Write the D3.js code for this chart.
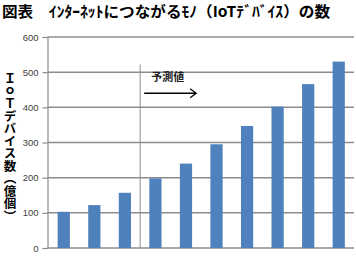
<!DOCTYPE html>
<html>
<head>
<meta charset="utf-8">
<script src="https://cdn.jsdelivr.net/npm/d3@7"></script>
<style>
  html, body { margin: 0; padding: 0; background: #fff; }
  svg { display: block; }
</style>
</head>
<body>
<script>
// data
const years = ["2013", "2014", "2015", "2016", "2017", "2018", "2019", "2020", "2021", "2022"];
const devices = [103, 122, 157, 198, 240, 295, 347, 402, 466, 530];
const yTicks = [0, 100, 200, 300, 400, 500, 600];
const forecastFrom = 3; // index of first forecast bar

const width = 356, height = 260;
const jp = "'Noto Sans CJK JP', sans-serif";

const svg = d3.select("body").append("svg")
  .attr("width", width)
  .attr("height", height);

//scales
const x = d3.scaleBand()
  .domain(years)
  .range([48.5, 354])
  .paddingInner(0.6)
  .paddingOuter(0.3);

const y = d3.scaleLinear()
  .domain([0, 600])
  .range([248, 37]);

const left = 47.5, right = 354;

// title
svg.append("text")
  .attr("x", 2)
  .attr("y", 17)
  .attr("textLength", 328)
  .attr("lengthAdjust", "spacingAndGlyphs")
  .style("font", `bold 15px ${jp}`)
  .attr("fill", "#000")
  .text("図表　ｲﾝﾀｰﾈｯﾄにつながるﾓﾉ（IoTﾃﾞﾊﾞｲｽ）の数");

// grid lines
svg.append("g")
  .selectAll("line")
  .data(yTicks)
  .join("line")
  .attr("x1", left)
  .attr("x2", right)
  .attr("y1", d => y(d))
  .attr("y2", d => y(d))
  .attr("stroke", "#8c8c8c")
  .attr("stroke-width", 1.5);

// y axis
const yAxis = svg.append("g")
  .attr("transform", `translate(${left},0)`)
  .call(d3.axisLeft(y).tickValues(yTicks).tickSize(5).tickPadding(4));
yAxis.select(".domain").attr("stroke", "#8c8c8c").attr("stroke-width", 1.2);
yAxis.selectAll(".tick line").attr("stroke", "#8c8c8c").attr("stroke-width", 1.2);
yAxis.selectAll("text")
  .attr("fill", "#404040")
  .style("font", "9.5px 'Liberation Sans', sans-serif");

// bars
svg.append("g")
  .selectAll("rect")
  .data(devices)
  .join("rect")
  .attr("x", (d, i) => x(years[i]))
  .attr("y", d => y(d))
  .attr("width", x.bandwidth())
  .attr("height", d => y(0) - y(d))
  .attr("fill", "#4f81bd");

// forecast separator
const sepX = x(years[forecastFrom]) - x.step() * x.paddingInner() / 2;
svg.append("line")
  .attr("x1", sepX)
  .attr("x2", sepX)
  .attr("y1", y(522))
  .attr("y2", y(0))
  .attr("stroke", "#8c8c8c")
  .attr("stroke-width", 1);

svg.append("text")
  .attr("x", sepX + 11)
  .attr("y", y(475))
  .style("font", `bold 11px ${jp}`)
  .attr("fill", "#222")
  .text("予測値");

// arrow
const arrowY = y(440);
svg.append("line")
  .attr("x1", sepX + 4)
  .attr("x2", sepX + 56)
  .attr("y1", arrowY)
  .attr("y2", arrowY)
  .attr("stroke", "#000")
  .attr("stroke-width", 1.3);
svg.append("path")
  .attr("d", `M${sepX + 50},${arrowY - 4.5} L${sepX + 56},${arrowY} L${sepX + 50},${arrowY + 4.5}`)
  .attr("fill", "none")
  .attr("stroke", "#000")
  .attr("stroke-width", 1.3);

// y axis title, vertical
svg.append("text")
  .attr("x", 10)
  .attr("y", 72)
  .style("font", `bold 12.5px ${jp}`)
  .style("writing-mode", "vertical-rl")
  .attr("fill", "#000")
  .text("ＩｏＴデバイス数（億個）");
</script>
</body>
</html>
